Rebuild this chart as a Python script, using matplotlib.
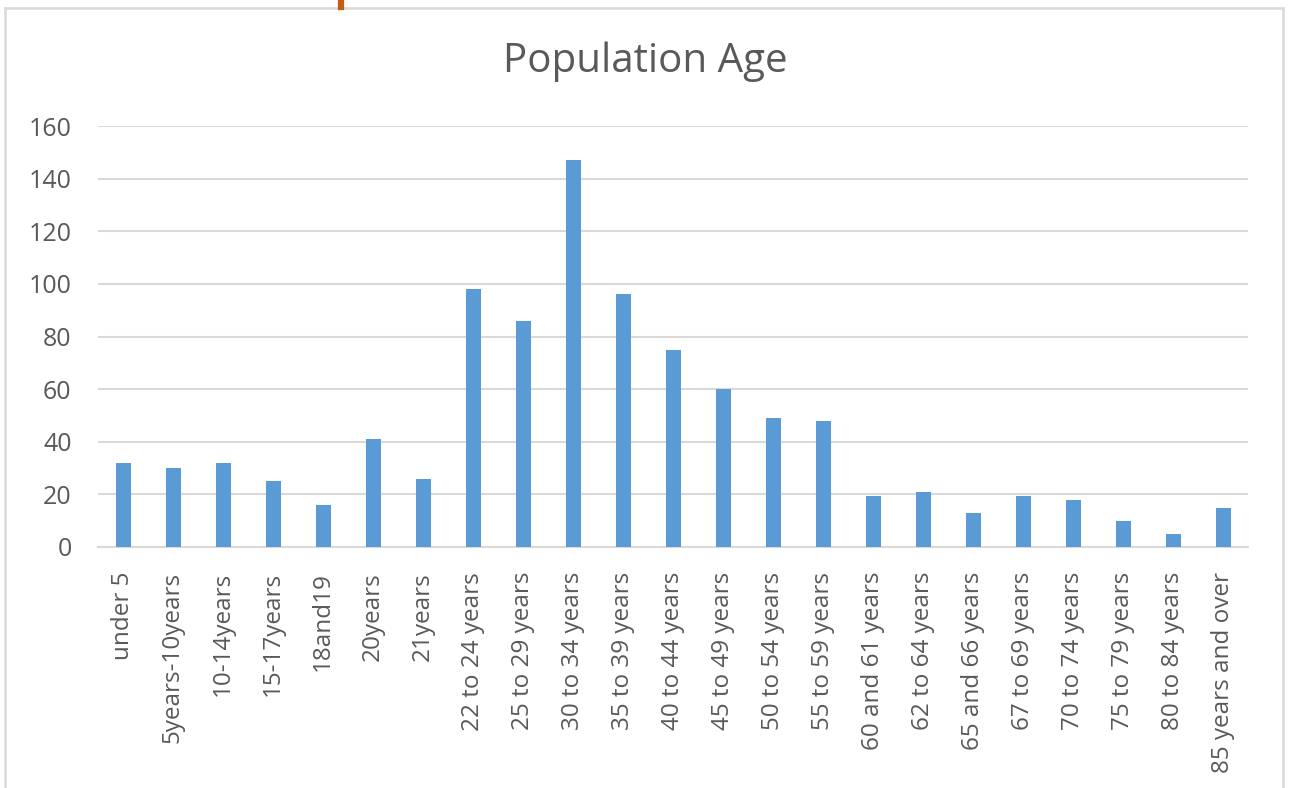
import matplotlib
matplotlib.use("Agg")
import matplotlib.pyplot as plt
from matplotlib.lines import Line2D

categories = ["under 5", "5years-10years", "10-14years", "15-17years", "18and19",
              "20years", "21years", "22 to 24 years", "25 to 29 years", "30 to 34 years",
              "35 to 39 years", "40 to 44 years", "45 to 49 years", "50 to 54 years",
              "55 to 59 years", "60 and 61 years", "62 to 64 years", "65 and 66 years",
              "67 to 69 years", "70 to 74 years", "75 to 79 years", "80 to 84 years",
              "85 years and over"]
values = [32, 30, 32, 25, 16, 41, 26, 98, 86, 147, 96, 75, 60, 49, 48, 19.5, 21,
          13, 19.5, 18, 10, 5, 15]
yticks = [0, 20, 40, 60, 80, 100, 120, 140, 160]

plt.rcParams['font.family'] = ['Open Sans', 'DejaVu Sans']
W, H = 1293, 788
fig = plt.figure(figsize=(W / 100, H / 100), dpi=100)
ax = fig.add_axes([98 / W, 1 - 547 / H, 1150 / W, 421 / H])

x = list(range(len(categories)))
ax.bar(x, values, width=0.3, color="#5B9BD5", zorder=3)
ax.set_xlim(-0.5, len(categories) - 0.5)
ax.set_ylim(0, 160)
ax.set_yticks(yticks)
ax.set_xticks(x)
ax.set_xticklabels(categories, rotation=90, fontsize=17.5, color="#595959")
ax.tick_params(axis='y', length=0, pad=19, labelsize=18, labelcolor="#595959")
ax.tick_params(axis='x', length=0, pad=18)
ax.grid(axis='y', color="#D9D9D9", linewidth=1.5, zorder=0)
ax.set_axisbelow(True)
for s in ["top", "right", "left"]:
    ax.spines[s].set_visible(False)
ax.spines["bottom"].set_color("#D9D9D9")
ax.spines["bottom"].set_linewidth(1.5)
ax.spines["bottom"].set_zorder(2)

fig.text(645 / W, 1 - 62 / H, "Population Age", ha="center", va="center",
         fontsize=29, color="#595959")

# chart frame
c = "#D9D9D9"
fig.add_artist(Line2D([5 / W, 1283 / W], [1 - 8 / H, 1 - 8 / H], color=c, lw=1.8, transform=fig.transFigure))
fig.add_artist(Line2D([5 / W, 5 / W], [1 - 8 / H, 0], color=c, lw=1.8, transform=fig.transFigure))
fig.add_artist(Line2D([1283 / W, 1283 / W], [1 - 8 / H, 0], color=c, lw=1.8, transform=fig.transFigure))
fig.add_artist(Line2D([341 / W, 341 / W], [1, 1 - 7 / H], color="#C55A11", lw=4.5, transform=fig.transFigure))

fig.savefig("out.png", dpi=100, facecolor="white")
